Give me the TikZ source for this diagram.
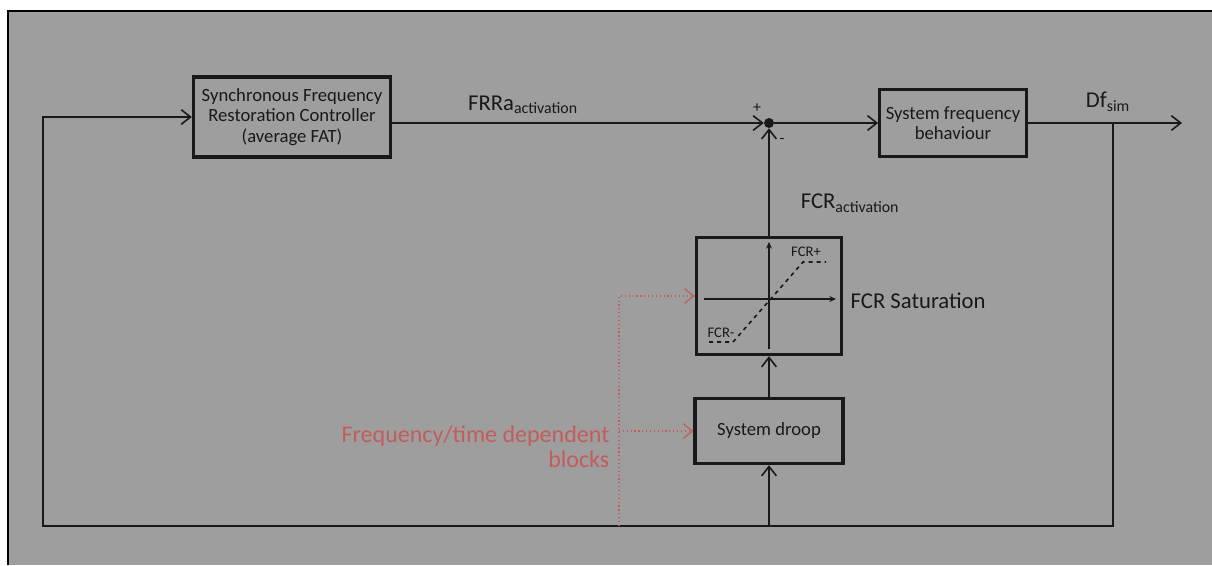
\documentclass[tikz,border=0pt]{standalone}
\usepackage{fontspec}
\setmainfont{Carlito}
\usetikzlibrary{arrows.meta,positioning}
\definecolor{panel}{RGB}{158,158,158}
\definecolor{hintred}{RGB}{196,92,92}
\definecolor{ink}{RGB}{25,25,25}

\begin{document}
\begin{tikzpicture}[x=0.75pt,y=-0.75pt,font=\fontsize{14}{15.5}\selectfont,
  >={Straight Barb[length=7pt,width=11pt]},
  blk/.style={draw=ink,text=ink,line width=2.3pt,align=center,inner sep=2pt},
  wire/.style={draw=ink,line width=1.2pt},
  hint/.style={draw=hintred,line width=0.9pt,dotted},
  lbl/.style={text=ink,font=\fontsize{17}{19}\selectfont}]
  \useasboundingbox (0,0) rectangle (1212,565);
  \fill[white] (0,0) rectangle (1212,565);
  \fill[panel] (8,11) rectangle (1212,565);
  \draw[line width=2pt] (8,565) -- (8,11) -- (1212,11);

  % blocks
  \node[blk,minimum width=148pt,minimum height=60pt] (sfrc) at (292,117)
    {Synchronous Frequency\\Restoration Controller\\(average FAT)};
  \node[blk,minimum width=110pt,minimum height=50pt] (sfb) at (953,123)
    {System frequency\\behaviour};
  \node[blk,minimum width=109pt,minimum height=88pt] (fcr) at (769,296) {};
  \node[blk,minimum width=111pt,minimum height=49pt] (droop) at (769,431)
    {System droop};
  \node[circle,fill=ink,inner sep=0pt,minimum size=7.5pt] (sum) at (769,123) {};

  % main loop
  \coordinate (dfout) at (1182,123);
  \coordinate (tap) at (1113,123);
  \coordinate (lowright) at (1113,526);
  \coordinate (lowleft) at (43,526);
  \draw[wire,->] (sfrc.east |- sum) -- (sum);
  \draw[wire,->] (sum) -- (sfb);
  \draw[wire,->] (sfb) -- (dfout);
  \draw[wire,->] (tap) -- (lowright) -- (lowleft) |- (sfrc.west);
  \draw[wire,->] (droop.south |- lowleft) -- (droop.south);
  \draw[wire,->] (droop) -- (fcr);
  \draw[wire,->] (fcr) -- (sum);

  % saturation curve
  \draw[wire,-{Stealth[length=5pt,width=4.5pt]}] (704,299) -- (836,299);
  \draw[wire,-{Stealth[length=5pt,width=4.5pt]}] (769,349) -- (769,242);
  \draw[wire,dashed] (709,342) -- (733,342) -- (803,262) -- (826,262);
  \node[text=ink,font=\fontsize{11}{12}\selectfont] (fcrplus) at (806,252) {FCR+};
  \node[text=ink,font=\fontsize{11}{12}\selectfont] (fcrminus) at (721,333) {FCR-};

  % labels
  \node[lbl] (frrlbl) at (523,105) {FRRa\textsubscript{activation}};
  \node[lbl] (fcrlbl) at (850,203) {FCR\textsubscript{activation}};
  \node[lbl] (dflbl) at (1108,102) {Df\textsubscript{sim}};
  \node[text=ink,font=\fontsize{12}{12}\selectfont] (plus) at (757,108) {+};
  \node[text=ink,font=\fontsize{12}{12}\selectfont] (minus) at (782,141) {-};
  \node[lbl,anchor=west] (satlbl) at (846,301) {FCR Saturation};

  % time dependent blocks
  \coordinate (hintfoot) at (619,526);
  \draw[hint,->] (hintfoot) |- (fcr.west);
  \draw[hint,->] (hintfoot |- droop.west) -- (droop.west);
  \node[text=hintred,align=right,anchor=east,font=\fontsize{18}{19}\selectfont]
    (hintlbl) at (614,447) {Frequency/time dependent\\blocks};
\end{tikzpicture}
\end{document}
